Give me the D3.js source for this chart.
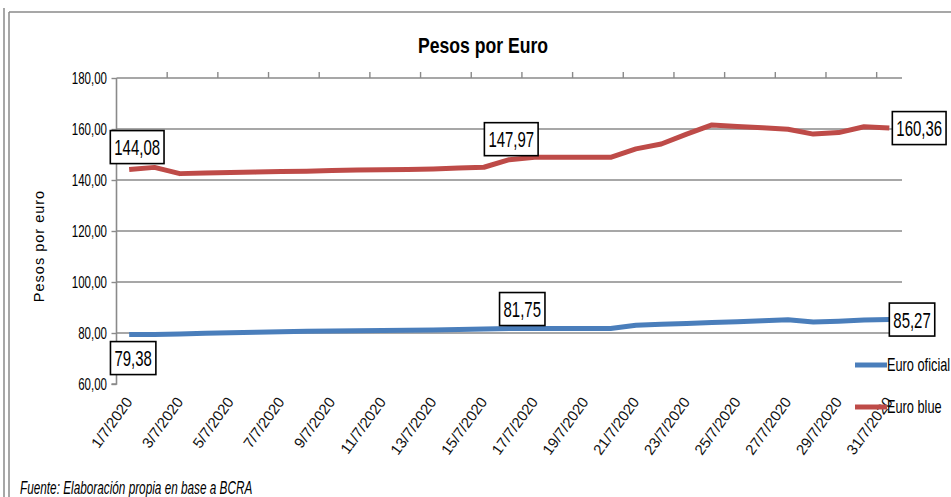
<!DOCTYPE html>
<html><head><meta charset="utf-8">
<script src="https://cdn.jsdelivr.net/npm/d3@7"></script>
<style>
html,body{margin:0;padding:0;background:#fff;overflow:hidden;}
text{font-family:"Liberation Sans",Arial,sans-serif;}
</style></head>
<body>
<svg id="chart" width="951" height="497"></svg>
<script>
// ---- data ----
const categories = ["1/7/2020","2/7/2020","3/7/2020","4/7/2020","5/7/2020","6/7/2020","7/7/2020","8/7/2020","9/7/2020","10/7/2020",
  "11/7/2020","12/7/2020","13/7/2020","14/7/2020","15/7/2020","16/7/2020","17/7/2020","18/7/2020","19/7/2020","20/7/2020",
  "21/7/2020","22/7/2020","23/7/2020","24/7/2020","25/7/2020","26/7/2020","27/7/2020","28/7/2020","29/7/2020","30/7/2020","31/7/2020"];
const tickLabels = ["1/7/2020","3/7/2020","5/7/2020","7/7/2020","9/7/2020","11/7/2020","13/7/2020","15/7/2020",
  "17/7/2020","19/7/2020","21/7/2020","23/7/2020","25/7/2020","27/7/2020","29/7/2020","31/7/2020"];
const euroOficial = [79.38,79.45,79.6,79.9,80.1,80.3,80.5,80.7,80.8,80.9,81.0,81.1,81.2,81.4,81.6,81.75,
  81.8,81.8,81.8,81.8,83.0,83.4,83.7,84.1,84.4,84.8,85.2,84.3,84.6,85.1,85.27];
const euroBlue = [144.08,144.95,142.5,142.7,142.9,143.1,143.3,143.4,143.7,143.9,144.0,144.1,144.3,144.7,145.0,147.97,
  148.9,148.9,148.9,148.9,152.2,154.1,158.0,161.6,161.0,160.5,159.9,158.0,158.6,160.9,160.36];
const yTicks = [60,80,100,120,140,160,180];
const seriesNames = ["Euro oficial","Euro blue"];
const title = "Pesos por Euro";
const yTitle = "Pesos por euro";
const source = "Fuente: Elaboración propia en base a BCRA";
// labelled points: [seriesIndex, pointIndex]
const labelled = [[0,0],[0,15],[0,30],[1,0],[1,15],[1,30]];

// ---- drawing ----
const svg = d3.select("#chart");
const colors = ["#4A7EBB","#BE4B48"];
const grid = "#8a8a8a";
const fmt = v => v.toFixed(2).replace(".", ",");

function ctext(g, x, y, str, size, sx, anchor, extra) {
  const t = g.append("text")
    .attr("transform", `translate(${x},${y}) scale(${sx},1)`)
    .attr("font-size", size)
    .attr("text-anchor", anchor || "start")
    .attr("fill", "#000")
    .text(str);
  if (extra) extra(t);
  return t;
}

// frame
svg.append("line").attr("x1",4).attr("x2",4).attr("y1",8).attr("y2",497).attr("stroke",grid).attr("stroke-width",1.5);
svg.append("line").attr("x1",9).attr("x2",9).attr("y1",12).attr("y2",497).attr("stroke",grid).attr("stroke-width",1.5);
svg.append("line").attr("x1",9).attr("x2",951).attr("y1",12).attr("y2",12).attr("stroke",grid).attr("stroke-width",1.5);

const x = d3.scaleBand().domain(categories).range([116.5, 902]);
const cx = d => x(d) + x.bandwidth() / 2;
const y = d3.scaleLinear().domain([60, 180]).range([384, 78]);

// gridlines
svg.append("g").selectAll("line").data(yTicks.filter(v => v > 60)).join("line")
  .attr("x1", 116.5).attr("x2", 902).attr("y1", d => y(d)).attr("y2", d => y(d))
  .attr("stroke", grid).attr("stroke-width", 1.6);

// y axis
const yAxis = svg.append("g").attr("transform", "translate(116.5,0)")
  .call(d3.axisLeft(y).tickValues(yTicks).tickSize(5).tickFormat(""));
yAxis.select(".domain").attr("stroke", grid).attr("stroke-width", 1.6).attr("d", `M-5,${y(60)}H0V${y(180)}`);
yAxis.selectAll(".tick line").attr("stroke", grid).attr("stroke-width", 1.4);
yTicks.forEach(v => ctext(svg, 107, y(v) + 6, fmt(v), 16, 0.72, "end"));

// top category tick marks (between categories, every 2)
const bounds = categories.map((c, i) => i).filter(i => i % 2 === 1 && i < categories.length - 1)
  .map(i => x(categories[i]) + x.bandwidth());
svg.append("g").selectAll("line").data(bounds).join("line")
  .attr("x1", d => d).attr("x2", d => d).attr("y1", y(180)).attr("y2", y(180) - 6)
  .attr("stroke", grid).attr("stroke-width", 1.4);

// x tick labels
tickLabels.forEach(lbl => {
  svg.append("text")
    .attr("transform", `translate(${cx(lbl) + 4},${402}) rotate(-54)`)
    .attr("font-size", 15).attr("text-anchor", "end").attr("fill", "#111")
    .text(lbl);
});

// lines
const line = d3.line().x((d, i) => cx(categories[i])).y(d => y(d));
[euroOficial, euroBlue].forEach((s, k) => {
  svg.append("path").datum(s).attr("d", line).attr("fill", "none")
    .attr("stroke", colors[k]).attr("stroke-width", 5).attr("stroke-linejoin", "round");
});

// data labels
const placements = {
  "0-0": {mode: "below", dx: 4, gap: 7},
  "0-15": {mode: "above", dx: 13, gap: 3},
  "0-30": {mode: "right", dx: 0, gap: 0},
  "1-0": {mode: "above", dx: 8, gap: 6},
  "1-15": {mode: "above", dx: 2, gap: 4},
  "1-30": {mode: "right", dx: 0, gap: 3}
};
labelled.forEach(([si, pi]) => {
  const data = si === 0 ? euroOficial : euroBlue;
  const v = data[pi];
  const px = cx(categories[pi]), py = y(v);
  const p = placements[si + "-" + pi];
  const g = svg.append("g");
  const sx = 0.68, fs = 22;
  const t = ctext(g, 0, 0, fmt(v), fs, sx, "middle");
  const w = t.node().getComputedTextLength() * sx + 8;
  const h = 33;
  let bx, by;
  if (p.mode === "above") { bx = px + p.dx - w / 2; by = py - p.gap - h; }
  else if (p.mode === "below") { bx = px + p.dx - w / 2; by = py + p.gap; }
  else { bx = px + p.gap; by = py - h / 2; }
  g.insert("rect", "text").attr("x", bx).attr("y", by).attr("width", w).attr("height", h)
    .attr("fill", "#fff").attr("stroke", "#000").attr("stroke-width", 1.6);
  t.attr("transform", `translate(${bx + w / 2},${by + h / 2 + 8}) scale(${sx},1)`);
});

// legend
const legendY = [365, 407];
seriesNames.forEach((n, k) => {
  svg.append("line").attr("x1", 855).attr("x2", 887).attr("y1", legendY[k]).attr("y2", legendY[k])
    .attr("stroke", colors[k]).attr("stroke-width", 5);
  ctext(svg, 887, legendY[k] + 6, n, 18, 0.71, "start");
});

// title
ctext(svg, 483, 53, title, 22, 0.8, "middle", t => t.attr("font-weight", "bold"));

// y axis title
svg.append("text").attr("transform", `translate(44,246) rotate(-90)`)
  .attr("font-size", 14.5).attr("letter-spacing", 1).attr("text-anchor", "middle").attr("fill", "#000")
  .text(yTitle);

// source
ctext(svg, 20, 494, source, 19, 0.62, "start", t => t.attr("font-style", "italic"));
</script>
</body></html>
